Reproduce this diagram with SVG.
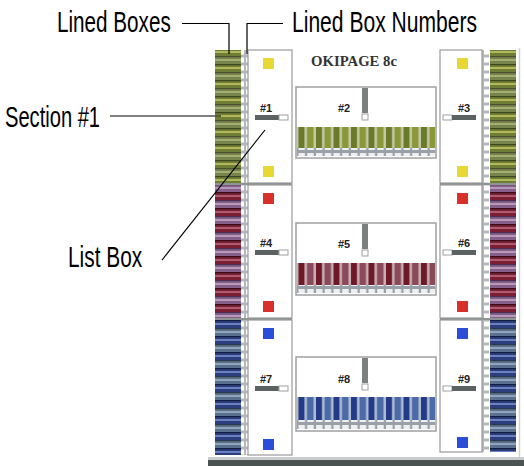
<svg xmlns="http://www.w3.org/2000/svg" width="524" height="466" viewBox="0 0 524 466">
<style>
.lbl{font-family:"Liberation Sans",Arial,sans-serif;font-size:29px;fill:#000}
.num{font-family:"Liberation Sans",Arial,sans-serif;font-size:11px;font-weight:bold;fill:#222}
.title{font-family:"Liberation Serif","Times New Roman",serif;font-size:14.5px;font-weight:bold;fill:#333}
.panel{fill:#fff;stroke:#9a9a9a;stroke-width:1.2}
.lbox{fill:#fff;stroke:#a0a0a0;stroke-width:1.5}
.sep{fill:#8e9494}
.lead{stroke:#000;stroke-width:1.2;fill:none}
.yel{fill:#e8d834}
.red{fill:#d8302a}
.blu{fill:#2a4ed8}
.slbar{fill:#5c6262}
.slbox{fill:#fff;stroke:#a0a0a0;stroke-width:1}
.scroll{fill:#7c8080}
</style>
<defs>
<pattern id="pG" patternUnits="userSpaceOnUse" width="26" height="16">
<rect width="26" height="16" fill="#6f7d35"/>
<rect y="0" width="26" height="1.2" fill="#3e4620"/>
<rect y="3" width="26" height="2" fill="#adb95a"/>
<rect y="8" width="26" height="8" fill="#78844e"/>
<rect y="8" width="26" height="1.2" fill="#4a5030"/>
<rect y="11" width="26" height="2" fill="#a4ae70"/>
</pattern>
<pattern id="pR" patternUnits="userSpaceOnUse" width="26" height="16">
<rect width="26" height="16" fill="#7a2035"/>
<rect y="0" width="26" height="1.2" fill="#3a0e18"/>
<rect y="3" width="26" height="2" fill="#b05a70"/>
<rect y="8" width="26" height="8" fill="#86608a"/>
<rect y="8" width="26" height="1.2" fill="#4a3050"/>
<rect y="11" width="26" height="2" fill="#b49ab8"/>
</pattern>
<pattern id="pB" patternUnits="userSpaceOnUse" width="26" height="16">
<rect width="26" height="16" fill="#2c3f7c"/>
<rect y="0" width="26" height="1.2" fill="#141e40"/>
<rect y="3" width="26" height="2" fill="#6a80c0"/>
<rect y="8" width="26" height="8" fill="#5a7290"/>
<rect y="8" width="26" height="1.2" fill="#2a3848"/>
<rect y="11" width="26" height="2" fill="#90a4b8"/>
</pattern>
<pattern id="pN" patternUnits="userSpaceOnUse" width="7" height="8">
<rect width="7" height="8" fill="#b4b8bc"/>
<rect x="1" y="1.5" width="5" height="5" fill="#fff"/>
</pattern>
<pattern id="vG" patternUnits="userSpaceOnUse" width="17.5" height="30">
<rect width="17.5" height="30" fill="#c4c8a8"/>
<rect x="1" width="6" height="30" fill="#6a7a28"/>
<rect x="9.5" width="6.5" height="30" fill="#8a9838"/>
</pattern>
<pattern id="vR" patternUnits="userSpaceOnUse" width="17.5" height="30">
<rect width="17.5" height="30" fill="#c8b0b4"/>
<rect x="1" width="6" height="30" fill="#6e1828"/>
<rect x="9.5" width="6.5" height="30" fill="#8a4a5a"/>
</pattern>
<pattern id="vB" patternUnits="userSpaceOnUse" width="17.5" height="30">
<rect width="17.5" height="30" fill="#b0bcd0"/>
<rect x="1" width="6" height="30" fill="#233a88"/>
<rect x="9.5" width="6.5" height="30" fill="#4a6aa8"/>
</pattern>
<pattern id="hN" patternUnits="userSpaceOnUse" width="8.75" height="8">
<rect width="8.75" height="8" fill="#9aa0a8"/>
<rect x="1" y="1" width="6.5" height="5" fill="#eef0f2"/>
</pattern>
</defs>
<rect width="524" height="466" fill="#fff"/>

<g id="frame">
<line x1="519.5" y1="48" x2="519.5" y2="460" stroke="#d0d4d4" stroke-width="1.5"/>
<rect x="208" y="457" width="316" height="3" fill="#c8cccc"/>
<rect x="208" y="460" width="316" height="6" fill="#4a5252"/>
<text class="title" x="311" y="66" textLength="86" lengthAdjust="spacingAndGlyphs">OKIPAGE 8c</text>
</g>

<g id="section1">
<rect x="215" y="50" width="26" height="133" fill="url(#pG)"/>
<rect x="241" y="50" width="7" height="133" fill="url(#pN)"/>
<rect class="panel" x="248" y="50" width="44" height="133"/>
<rect class="yel" x="263" y="58" width="11" height="11"/>
<rect class="yel" x="263" y="166" width="11" height="11"/>
<text class="num" x="260" y="112">#1</text>
<rect class="slbar" x="255" y="115" width="24" height="5"/>
<rect class="slbox" x="279" y="115" width="9" height="5"/>
<rect x="490" y="50" width="26" height="133" fill="url(#pG)"/>
<rect x="482" y="50" width="7" height="133" fill="url(#pN)"/>
<rect class="panel" x="440" y="50" width="42" height="133"/>
<rect class="yel" x="457" y="58" width="11" height="11"/>
<rect class="yel" x="457" y="166" width="11" height="11"/>
<text class="num" x="458" y="112">#3</text>
<rect class="slbox" x="443" y="115" width="9" height="5"/>
<rect class="slbar" x="452" y="115" width="24" height="5"/>
</g>
<g id="listbox2">
<rect class="lbox" x="296" y="87" width="140" height="71"/>
<rect x="297" y="127" width="138" height="21" fill="url(#vG)"/>
<rect x="297" y="148" width="138" height="8" fill="url(#hN)"/>
<rect class="scroll" x="362" y="88" width="6" height="25"/>
<rect class="slbox" x="362" y="114" width="6" height="6"/>
<text class="num" x="338" y="112">#2</text>
</g>

<g id="section2">
<rect class="sep" x="215" y="183" width="77" height="2.5"/>
<rect class="sep" x="440" y="183" width="76" height="2.5"/>
<rect x="215" y="185" width="26" height="133" fill="url(#pR)"/>
<rect x="241" y="185" width="7" height="133" fill="url(#pN)"/>
<rect class="panel" x="248" y="185" width="44" height="133"/>
<rect class="red" x="263" y="193" width="11" height="11"/>
<rect class="red" x="263" y="301" width="11" height="11"/>
<text class="num" x="260" y="247">#4</text>
<rect class="slbar" x="255" y="250" width="24" height="5"/>
<rect class="slbox" x="279" y="250" width="9" height="5"/>
<rect x="490" y="185" width="26" height="133" fill="url(#pR)"/>
<rect x="482" y="185" width="7" height="133" fill="url(#pN)"/>
<rect class="panel" x="440" y="185" width="42" height="133"/>
<rect class="red" x="457" y="193" width="11" height="11"/>
<rect class="red" x="457" y="301" width="11" height="11"/>
<text class="num" x="458" y="247">#6</text>
<rect class="slbox" x="443" y="250" width="9" height="5"/>
<rect class="slbar" x="452" y="250" width="24" height="5"/>
</g>
<g id="listbox5">
<rect class="lbox" x="296" y="223" width="140" height="72"/>
<rect x="297" y="263" width="138" height="22" fill="url(#vR)"/>
<rect x="297" y="285" width="138" height="8" fill="url(#hN)"/>
<rect class="scroll" x="362" y="224" width="6" height="25"/>
<rect class="slbox" x="362" y="250" width="6" height="6"/>
<text class="num" x="338" y="248">#5</text>
</g>

<g id="section3">
<rect class="sep" x="215" y="318" width="77" height="2.5"/>
<rect class="sep" x="440" y="318" width="76" height="2.5"/>
<rect x="215" y="320" width="26" height="135" fill="url(#pB)"/>
<rect x="241" y="320" width="7" height="135" fill="url(#pN)"/>
<rect class="panel" x="248" y="320" width="44" height="135"/>
<rect class="blu" x="263" y="328" width="11" height="11"/>
<rect class="blu" x="263" y="439" width="11" height="11"/>
<text class="num" x="260" y="383">#7</text>
<rect class="slbar" x="255" y="386" width="24" height="5"/>
<rect class="slbox" x="279" y="386" width="9" height="5"/>
<rect x="490" y="320" width="26" height="132" fill="url(#pB)"/>
<rect x="482" y="320" width="7" height="132" fill="url(#pN)"/>
<rect class="panel" x="440" y="320" width="42" height="132"/>
<rect class="blu" x="457" y="328" width="11" height="11"/>
<rect class="blu" x="457" y="437" width="11" height="11"/>
<text class="num" x="458" y="383">#9</text>
<rect class="slbox" x="443" y="386" width="9" height="5"/>
<rect class="slbar" x="452" y="386" width="24" height="5"/>
</g>
<g id="listbox8">
<rect class="lbox" x="296" y="357" width="140" height="74"/>
<rect x="297" y="397" width="138" height="23" fill="url(#vB)"/>
<rect x="297" y="420" width="138" height="9" fill="url(#hN)"/>
<rect class="scroll" x="362" y="358" width="6" height="25"/>
<rect class="slbox" x="362" y="384" width="6" height="6"/>
<text class="num" x="338" y="383">#8</text>
</g>

<g id="labels">
<text class="lbl" transform="translate(57,32) scale(0.72,1)" x="0" y="0" textLength="158" lengthAdjust="spacingAndGlyphs">Lined Boxes</text>
<text class="lbl" transform="translate(292,32) scale(0.72,1)" x="0" y="0" textLength="257" lengthAdjust="spacingAndGlyphs">Lined Box Numbers</text>
<text class="lbl" transform="translate(5,127) scale(0.72,1)" x="0" y="0" textLength="132" lengthAdjust="spacingAndGlyphs">Section #1</text>
<text class="lbl" transform="translate(68,267) scale(0.72,1)" x="0" y="0" textLength="103" lengthAdjust="spacingAndGlyphs">List Box</text>
</g>

<g id="connectors">
<polyline class="lead" points="182,23.5 229,23.5 229,54"/>
<polyline class="lead" points="283,23.5 247,23.5 247,54"/>
<line class="lead" x1="110" y1="116" x2="221" y2="116"/>
<line class="lead" x1="162" y1="260" x2="265" y2="130"/>
</g>
</svg>
